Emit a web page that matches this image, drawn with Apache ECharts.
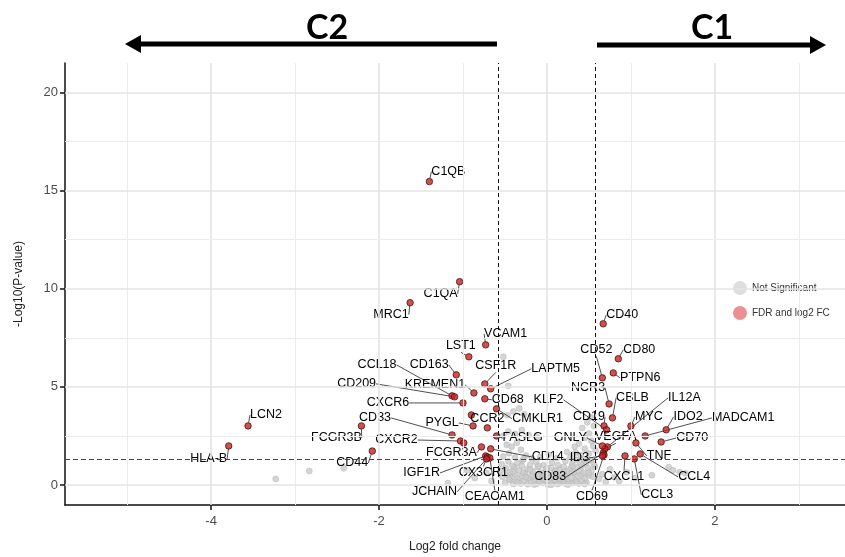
<!DOCTYPE html>
<html>
<head>
<meta charset="utf-8">
<script src="https://cdn.jsdelivr.net/npm/echarts@6/dist/echarts.min.js"></script>
<style>
  html, body { margin: 0; padding: 0; background: #fff; }
  #chart { width: 845px; height: 557px; }
</style>
</head>
<body>
<div id="chart"></div>
<script>
// significant genes (FDR and log2 FC)
const sigGenes = [
  'C1QB', 'C1QA', 'MRC1', 'VCAM1', 'LST1', 'CD163', 'CCL18', 'CD209', 'CSF1R', 'LAPTM5',
  'KREMEN1', 'CXCR6', 'CD68', 'CMKLR1', 'CCR2', 'PYGL', '', 'FASLG', 'CD33', 'CXCR2',
  '', 'FCGR3A', 'CD14', 'IGF1R', 'CX3CR1', 'CEACAM1', 'JCHAIN', 'FCGR3B', 'LCN2', 'HLA-B',
  'CD44',
  'CD40', 'CD80', 'PTPN6', 'CD52', 'NCR3', 'CBLB', 'CD19', 'KLF2', 'MYC', 'IDO2',
  'MADCAM1', 'CD70', 'TNF', 'CCL4', 'CXCL1', 'CCL3', 'IL12A', 'VEGFA', 'GNLY', 'CD83',
  'CD69', 'ID3'
]
const sigLog2FC = [
  -1.40, -1.04, -1.63, -0.73, -0.93, -1.08, -1.13, -1.10, -0.74, -0.67,
  -0.87, -1.00, -0.74, -0.60, -0.90, -0.88, -0.71, -0.60, -1.13, -1.03,
  -0.99, -0.78, -0.67, -0.73, -0.71, -0.68, -0.72, -2.21, -3.56, -3.79,
  -2.08,
  0.67, 0.85, 0.79, 0.66, 0.74, 0.78, 0.68, 0.71, 1.00, 1.42,
  1.17, 1.36, 1.06, 1.11, 0.93, 1.04, 0.72, 0.69, 0.66, 0.67,
  0.68, 0.66
]
const sigNegLogP = [
  15.46, 10.36, 9.29, 7.14, 6.53, 5.61, 4.54, 4.49, 5.15, 4.90,
  4.69, 4.18, 4.39, 3.88, 3.57, 3.01, 2.91, 2.50, 2.55, 2.24,
  2.14, 1.94, 1.84, 1.48, 1.43, 1.38, 1.33, 3.01, 3.01, 1.99,
  1.73,
  8.21, 6.43, 5.71, 5.46, 4.13, 3.42, 3.01, 2.81, 3.01, 2.81,
  2.50, 2.19, 2.14, 1.58, 1.48, 1.33, 1.94, 1.84, 1.99, 1.63,
  1.53, 1.48
]

// not significant genes
const nsLog2FC = [
  -0.50, -0.44, -0.40, -0.36, -0.31, -0.27, -0.23, -0.19, -0.15, -0.12, -0.08, -0.05, -0.02, 0.01,
  0.04, 0.07, 0.10, 0.13, 0.16, 0.19, 0.22, 0.26, 0.30, 0.34, 0.38, 0.42, 0.47,
  -0.53, -0.47, -0.42, -0.38, -0.34, -0.30, -0.26, -0.22, -0.18, -0.14, -0.10, -0.06, -0.03, 0.00,
  0.03, 0.07, 0.11, 0.14, 0.18, 0.21, 0.25, 0.29, 0.33, 0.37, 0.41, 0.45, 0.50, 0.55,
  -0.55, -0.49, -0.44, -0.39, -0.33, -0.28, -0.23, -0.17, -0.11, -0.07, -0.01, 0.05, 0.09, 0.15,
  0.20, 0.24, 0.28, 0.32, 0.36, 0.40, 0.44, 0.49, 0.53, 0.57,
  -0.54, -0.46, -0.41, -0.35, -0.29, -0.20, -0.13, -0.04, 0.06, 0.13, 0.22, 0.30, 0.35, 0.42,
  0.47, 0.52, 0.56,
  -0.52, -0.45, -0.38, -0.31, -0.25, 0.28, 0.34, 0.40, 0.45, 0.50, 0.55, 0.58, 0.38, -0.48, -0.42,
  -0.52, -0.46, -0.38, -0.30, -0.22, -0.12, -0.47, -0.40, -0.33, -0.27, 0.42, 0.48, 0.52, 0.56,
  0.45, 0.50, -0.52, -0.46,
  -3.23, -2.83, -2.42, -1.18, -0.86, -0.72, -0.66, -0.95,
  0.62, 0.66, 0.70, 0.75, 0.80, 0.86, 0.95, 1.05, 1.45, 1.50, 1.58, 1.65, 1.25,
  -0.45, -0.35, -0.25, -0.15, -0.05, 0.05, 0.15, 0.25, 0.35, 0.45,
  -0.40, -0.30, -0.20, -0.10, 0.00, 0.10, 0.20, 0.30, 0.40, 0.50,
  -0.18, -0.08, 0.02, 0.12, 0.24, 0.44, 0.53, -0.36, -0.28, 0.33
]
const nsNegLogP = [
  0.12, 0.25, 0.05, 0.18, 0.08, 0.22, 0.04, 0.15, 0.28, 0.06, 0.19, 0.10, 0.26, 0.03,
  0.17, 0.09, 0.24, 0.05, 0.14, 0.21, 0.07, 0.18, 0.11, 0.25, 0.08, 0.20, 0.13,
  0.42, 0.51, 0.38, 0.55, 0.33, 0.47, 0.58, 0.36, 0.49, 0.41, 0.56, 0.35, 0.46, 0.59,
  0.38, 0.52, 0.43, 0.33, 0.55, 0.40, 0.50, 0.36, 0.58, 0.44, 0.53, 0.35, 0.48, 0.42,
  0.72, 0.85, 0.66, 0.90, 0.74, 0.63, 0.82, 0.70, 0.92, 0.64, 0.78, 0.88, 0.68, 0.80,
  0.93, 0.70, 0.84, 0.65, 0.90, 0.76, 0.62, 0.86, 0.71, 0.95,
  1.05, 1.20, 0.98, 1.12, 1.25, 1.03, 1.18, 1.00, 1.14, 1.02, 1.22, 1.08, 1.28, 1.00,
  1.16, 1.26, 1.06,
  1.45, 1.62, 1.40, 1.80, 1.50, 1.42, 1.66, 1.52, 1.85, 1.60, 1.98, 1.75, 2.10, 2.05, 1.95,
  2.50, 2.72, 2.60, 2.80, 2.55, 2.45, 3.55, 3.75, 3.90, 3.60, 2.90, 3.20, 3.45, 3.00,
  2.40, 2.62, 6.53, 5.05,
  0.31, 0.71, 0.85, 0.10, 0.35, 0.62, 0.20, 0.75,
  0.30, 0.55, 0.15, 0.80, 0.40, 0.20, 0.65, 0.35, 0.90, 0.75, 0.65, 0.60, 0.50,
  0.30, 0.12, 0.40, 0.02, 0.30, 0.01, 0.32, 0.02, 0.16, 0.05,
  0.68, 0.98, 0.78, 0.98, 0.86, 0.72, 0.66, 0.95, 1.10, 0.62,
  1.35, 1.42, 1.55, 1.38, 1.68, 1.30, 2.25, 2.15, 1.32, 1.95
]

const xTickValues = [-4, -2, 0, 2]
const xMinorValues = [-5, -3, -1, 1, 3]
const yTickValues = [0, 5, 10, 15, 20]
const yMinorValues = [2.5, 7.5, 12.5, 17.5]
const fcCutoff = 0.585
const pCutoff = 1.3

// where each gene label sits, in pixels from its point (ggrepel look)
const labelOffsets = {
  C1QB: [19, -10], C1QA: [-19, 12], MRC1: [-19, 12], VCAM1: [20, -11], LST1: [-8, -11],
  CD163: [-27, -10], CCL18: [-75, -31], CD209: [-98, -13], CSF1R: [11, -18], LAPTM5: [65, -20],
  KREMEN1: [-39, -8], CXCR6: [-75, 0], CD68: [23, 1], CMKLR1: [41, 10], CCR2: [16, 4],
  PYGL: [-31, -3], FASLG: [26, 2], CD33: [-77, -17], CXCR2: [-64, -1], FCGR3A: [-30, 6],
  CD14: [57, 8], IGF1R: [-64, 17], CX3CR1: [-4, 16], CEACAM1: [5, 39], JCHAIN: [-52, 33],
  FCGR3B: [-25, 12], LCN2: [18, -11], 'HLA-B': [-20, 13], CD44: [-20, 12],
  CD40: [19, -9], CD80: [21, -9], PTPN6: [27, 5], CD52: [-6, -28], NCR3: [-21, -16],
  CBLB: [20, -20], CD19: [-15, -9], KLF2: [-58, -30], MYC: [18, -9], IDO2: [22, -13],
  MADCAM1: [98, -18], CD70: [31, -4], TNF: [23, 13], CCL4: [54, 23], CXCL1: [-1, 21],
  CCL3: [23, 36], IL12A: [77, -49], VEGFA: [11, -12], GNLY: [-32, -8], CD83: [-53, 24],
  CD69: [-12, 42], ID3: [-23, 2]
}

const sigData = sigGenes.map((g, i) => ({
  name: g,
  value: [sigLog2FC[i], sigNegLogP[i]],
  label: { show: g !== '' }
}))
const nsData = nsLog2FC.map((x, i) => [x, nsNegLogP[i]])

const gridLines = []
xTickValues.forEach(v => gridLines.push({ xAxis: v, lineStyle: { color: '#e4e4e4', width: 1.6, type: 'solid' } }))
xMinorValues.forEach(v => gridLines.push({ xAxis: v, lineStyle: { color: '#ececec', width: 1, type: 'solid' } }))
yTickValues.forEach(v => gridLines.push({ yAxis: v, lineStyle: { color: '#e4e4e4', width: 1.6, type: 'solid' } }))
yMinorValues.forEach(v => gridLines.push({ yAxis: v, lineStyle: { color: '#ececec', width: 1, type: 'solid' } }))

const axisFont = 'Liberation Sans, Arial, sans-serif'

const chart = echarts.init(document.getElementById('chart'))

const option = {
  animation: false,
  backgroundColor: '#ffffff',
  grid: { left: 65, right: 0, top: 63, bottom: 52, outerBoundsMode: 'none', containLabel: false },
  xAxis: {
    type: 'value',
    min: -5.74,
    max: 3.55,
    name: 'Log2 fold change',
    nameLocation: 'middle',
    nameGap: 36,
    nameTextStyle: { fontFamily: axisFont, fontSize: 12, color: '#222' },
    splitLine: { show: false },
    axisLine: { onZero: false, lineStyle: { color: '#111', width: 1.5 } },
    axisTick: { show: true, customValues: xTickValues, length: 5, lineStyle: { color: '#111', width: 1.5 } },
    axisLabel: { customValues: xTickValues, fontFamily: axisFont, fontSize: 13, color: '#4d4d4d', margin: 10 }
  },
  yAxis: {
    type: 'value',
    min: -1.02,
    max: 21.5,
    name: '-Log10(P-value)',
    nameLocation: 'middle',
    nameRotate: 90,
    nameGap: 40,
    nameTextStyle: { fontFamily: axisFont, fontSize: 12, color: '#222' },
    splitLine: { show: false },
    axisLine: { onZero: false, lineStyle: { color: '#111', width: 1.5 } },
    axisTick: { show: true, customValues: yTickValues, length: 5, lineStyle: { color: '#111', width: 1.5 } },
    axisLabel: { customValues: yTickValues, fontFamily: axisFont, fontSize: 13, color: '#4d4d4d', margin: 7 }
  },
  legend: {
    orient: 'vertical',
    left: 728,
    top: 276,
    itemGap: 11,
    itemWidth: 14,
    itemHeight: 14,
    icon: 'circle',
    textStyle: { fontFamily: axisFont, fontSize: 10, color: '#333' },
    data: [
      { name: 'Not Significant', itemStyle: { color: '#d6d6d6', borderWidth: 0 } },
      { name: 'FDR and log2 FC', itemStyle: { color: '#e87478', borderWidth: 0 } }
    ]
  },
  graphic: [
    { type: 'line', shape: { x1: 497, y1: 44, x2: 138, y2: 44 }, style: { stroke: '#000', lineWidth: 5 } },
    { type: 'polygon', shape: { points: [[125, 44], [141, 35], [141, 53]] }, style: { fill: '#000' } },
    { type: 'line', shape: { x1: 597, y1: 45, x2: 812, y2: 45 }, style: { stroke: '#000', lineWidth: 5 } },
    { type: 'polygon', shape: { points: [[826, 45], [810, 36], [810, 54]] }, style: { fill: '#000' } },
    { type: 'text', x: 327, y: 28, style: { text: 'C2', font: 'bold 34px Lato, sans-serif', fill: '#000', align: 'center', verticalAlign: 'middle' } },
    { type: 'text', x: 712, y: 28, style: { text: 'C1', font: 'bold 34px Lato, sans-serif', fill: '#000', align: 'center', verticalAlign: 'middle' } }
  ],
  series: [
    {
      name: 'grid',
      type: 'line',
      data: [],
      z: 1,
      silent: true,
      markLine: {
        silent: true,
        symbol: ['none', 'none'],
        label: { show: false },
        data: gridLines
      }
    },
    {
      name: 'Not Significant',
      type: 'scatter',
      data: nsData,
      symbolSize: 6,
      z: 2,
      itemStyle: { color: '#cacaca', borderColor: '#b4b4b4', borderWidth: 0.6 },
      markLine: {
        silent: true,
        symbol: ['none', 'none'],
        label: { show: false },
        data: [
          { xAxis: -fcCutoff, lineStyle: { color: '#111', width: 1, type: [4, 3] } },
          { xAxis: fcCutoff, lineStyle: { color: '#111', width: 1, type: [4, 3] } },
          { yAxis: pCutoff, lineStyle: { color: '#444', width: 1, type: [5, 3] } }
        ]
      }
    },
    {
      name: 'FDR and log2 FC',
      type: 'scatter',
      data: sigData,
      symbolSize: 6.5,
      z: 3,
      itemStyle: { color: '#c42424', borderColor: '#3a0a0a', borderWidth: 0.9 },
      label: {
        show: true,
        position: 'inside',
        formatter: '{b}',
        fontFamily: axisFont,
        fontSize: 12.5,
        color: '#000',
        textBorderWidth: 0,
        opacity: 1
      },
      labelLine: { show: true, lineStyle: { color: '#222', width: 0.8 } },
      labelLayout: function (params) {
        const name = sigGenes[params.dataIndex]
        const o = labelOffsets[name] || [0, 0]
        return { dx: o[0], dy: o[1] }
      }
    }
  ]
}

chart.setOption(option)
</script>
</body>
</html>
